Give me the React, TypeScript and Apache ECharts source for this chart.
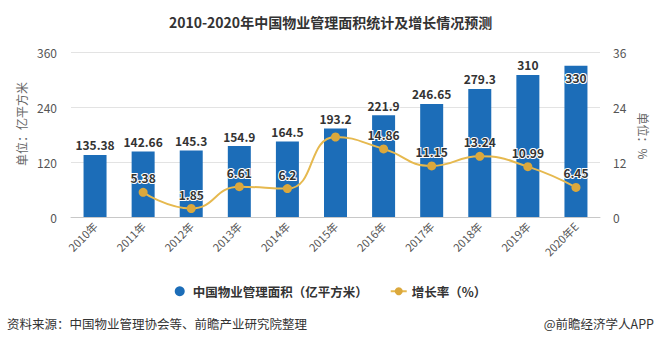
import React, { useEffect, useRef } from "react";
import * as echarts from "echarts";

const categories = ["2010年", "2011年", "2012年", "2013年", "2014年", "2015年", "2016年", "2017年", "2018年", "2019年", "2020年E"];
const areaValues = [135.38, 142.66, 145.3, 154.9, 164.5, 193.2, 221.9, 246.65, 279.3, 310, 330];
const growthValues: (number | null)[] = [null, 5.38, 1.85, 6.61, 6.2, 17.45, 14.86, 11.15, 13.24, 10.99, 6.45];
const leftTicks = { min: 0, max: 360, interval: 120 };
const rightTicks = { min: 0, max: 36, interval: 12 };
const titleText = "2010-2020年中国物业管理面积统计及增长情况预测";
const barName = "中国物业管理面积（亿平方米）";
const lineName = "增长率（%）";
const leftAxisName = "单位：亿平方米";
const rightAxisName = "单位：%";
const sourceText = "资料来源：中国物业管理协会等、前瞻产业研究院整理";
const creditText = "@前瞻经济学人APP";

const FONT = "'Noto Sans CJK SC', 'Noto Sans', sans-serif";
const BAR_COLOR = "#1c6db8";
const LINE_COLOR = "#e6b94f";

export default function App() {
  const ref = useRef<HTMLDivElement>(null);
  useEffect(() => {
    if (!ref.current) return;
    const chart = echarts.init(ref.current, undefined, { renderer: "svg" });
    const barData = areaValues.map((v, i) =>
      i === areaValues.length - 1
        ? { value: v, label: { position: "insideTop", distance: 6 } }
        : v
    );
    const lineData = growthValues.map((v, i) =>
      i === 5 ? { value: v, label: { show: false } } : v
    );
    chart.setOption({
      animation: false,
      textStyle: { fontFamily: FONT },
      title: {
        text: titleText,
        left: "center",
        top: 10,
        textStyle: { fontSize: 14, fontWeight: "bold", color: "#333", fontFamily: FONT },
      },
      legend: {
        top: 280,
        left: "center",
        itemGap: 22,
        itemWidth: 16,
        itemHeight: 10,
        textStyle: { fontSize: 12.5, fontWeight: "bold", color: "#333", fontFamily: FONT },
        data: [
          { name: barName, icon: "circle" },
          { name: lineName },
        ],
      },
      grid: { left: 71, right: 61, top: 52, bottom: 127 },
      xAxis: {
        type: "category",
        data: categories,
        axisLine: { lineStyle: { color: "#c8c8c8" } },
        axisTick: { alignWithLabel: true, length: 4, lineStyle: { color: "#c8c8c8" } },
        axisLabel: { rotate: 45, fontSize: 11, color: "#555", margin: 7, fontFamily: FONT },
      },
      yAxis: [
        {
          type: "value",
          min: leftTicks.min,
          max: leftTicks.max,
          interval: leftTicks.interval,
          axisLine: { show: false },
          axisTick: { show: false },
          splitLine: { lineStyle: { color: "#e3e3e3" } },
          axisLabel: { fontSize: 12, color: "#555", margin: 14, fontFamily: FONT },
        },
        {
          type: "value",
          min: rightTicks.min,
          max: rightTicks.max,
          interval: rightTicks.interval,
          axisLine: { show: false },
          axisTick: { show: false },
          splitLine: { show: false },
          axisLabel: { fontSize: 12, color: "#555", margin: 13, fontFamily: FONT },
        },
      ],
      graphic: [
        {
          type: "text",
          x: 21,
          y: 124,
          rotation: Math.PI / 2,
          style: {
            text: leftAxisName,
            fontSize: 12,
            fill: "#666",
            align: "center",
            verticalAlign: "middle",
            fontFamily: FONT,
          },
        },
        {
          type: "text",
          x: 643,
          y: 136,
          rotation: -Math.PI / 2,
          style: {
            text: rightAxisName,
            fontSize: 12,
            fill: "#666",
            align: "center",
            verticalAlign: "middle",
            fontFamily: FONT,
          },
        },
        {
          type: "text",
          x: 7,
          y: 323,
          style: {
            text: sourceText,
            fontSize: 12.5,
            fill: "#333",
            verticalAlign: "middle",
            fontFamily: FONT,
          },
        },
        {
          type: "text",
          x: 654,
          y: 323,
          style: {
            text: creditText,
            fontSize: 12.5,
            fill: "#333",
            align: "right",
            verticalAlign: "middle",
            fontFamily: FONT,
          },
        },
      ],
      series: [
        {
          name: barName,
          type: "bar",
          data: barData,
          barWidth: 23,
          itemStyle: { color: BAR_COLOR },
          label: {
            show: true,
            position: "top",
            distance: 4,
            fontSize: 12,
            fontWeight: "bold",
            color: "#333",
            textBorderColor: "#fff",
            textBorderWidth: 2,
            fontFamily: FONT,
          },
          z: 2,
        },
        {
          name: lineName,
          type: "line",
          yAxisIndex: 1,
          data: lineData,
          smooth: true,
          symbol: "circle",
          symbolSize: 9,
          lineStyle: { color: LINE_COLOR, width: 2 },
          itemStyle: { color: "#dba83c" },
          label: {
            show: true,
            position: "top",
            distance: 4,
            fontSize: 12,
            fontWeight: "bold",
            color: "#333",
            textBorderColor: "#fff",
            textBorderWidth: 2,
            fontFamily: FONT,
          },
          z: 3,
        },
      ],
    });
    return () => chart.dispose();
  }, []);
  return <div ref={ref} style={{ width: 661, height: 344, position: "absolute", left: 0, top: 0, background: "#fff" }} />;
}
